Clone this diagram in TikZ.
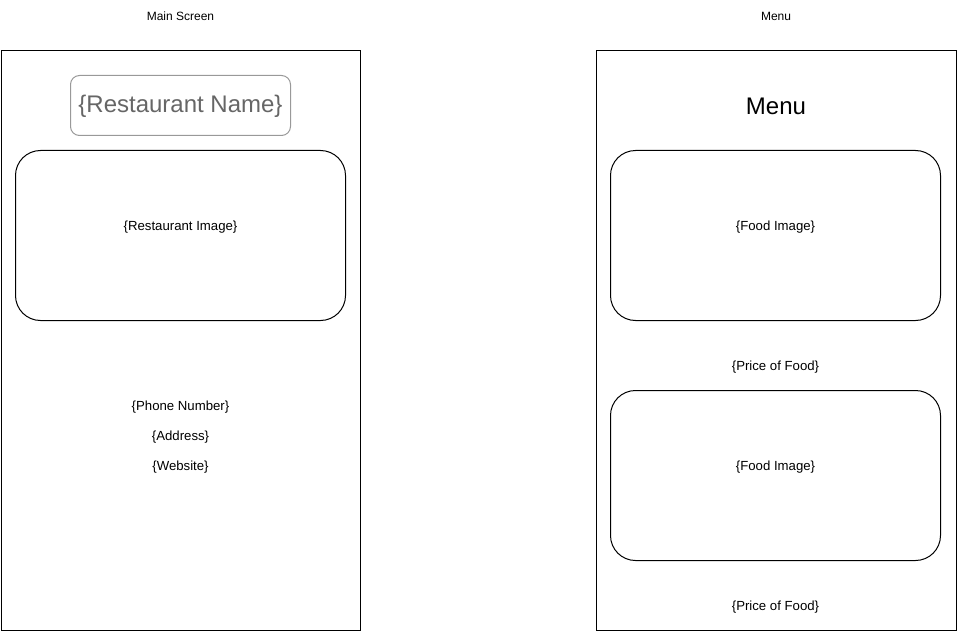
\documentclass[tikz,border=0pt]{standalone}
\usepackage{fontspec}
\setmainfont{Liberation Sans}
\begin{document}
\begin{tikzpicture}[x=1pt,y=-1pt,
  frame/.style={draw=black,line width=1pt},
  imgbox/.style={draw=black,line width=1pt,rounded corners=25pt},
  ttl/.style={font=\fontsize{12}{14}\selectfont,inner sep=0pt},
  lbl/.style={font=\fontsize{13.2}{15}\selectfont,inner sep=0pt},
  big/.style={font=\fontsize{24}{28}\selectfont,inner sep=0pt}]
\useasboundingbox (0,0) rectangle (957,631);
% titles
\node[ttl] (t1) at (180.5,16) {Main Screen};
\node[ttl] (t2) at (776,16) {Menu};
% main screen
\draw[frame] (1,50.5) rectangle (360,630.5);
\draw[draw=black!40,line width=1pt,rounded corners=9pt] (70.5,75.5) rectangle (290.5,135.5);
\node[big,text=black!60] (rname) at (180.5,106) {\{Restaurant Name\}};
\draw[imgbox] (15.5,150.5) rectangle (345.5,320.5);
\node[lbl] (rimg) at (180.5,227) {\{Restaurant Image\}};
\node[lbl] (phone) at (180.5,407) {\{Phone Number\}};
\node[lbl] (addr) at (180.5,437) {\{Address\}};
\node[lbl] (web) at (180.5,467) {\{Website\}};
% menu
\draw[frame] (596.5,50.5) rectangle (956,630.5);
\node[big] (menu) at (776,106) {Menu};
\draw[imgbox] (610.5,150.5) rectangle (940.5,320.5);
\node[lbl] (f1) at (775.5,227) {\{Food Image\}};
\node[lbl] (p1) at (775.5,367) {\{Price of Food\}};
\draw[imgbox] (610.5,390.5) rectangle (940.5,560.5);
\node[lbl] (f2) at (775.5,467) {\{Food Image\}};
\node[lbl] (p2) at (775.5,607) {\{Price of Food\}};
\end{tikzpicture}
\end{document}
